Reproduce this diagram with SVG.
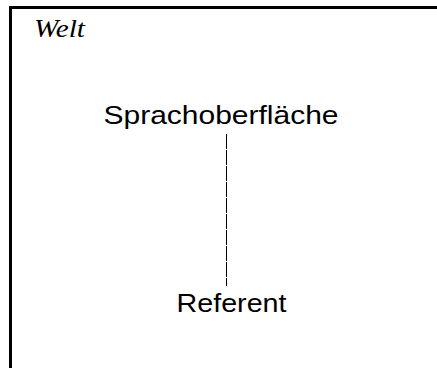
<svg xmlns="http://www.w3.org/2000/svg" width="437" height="368" viewBox="0 0 437 368">
<style>
.frame{fill:none;stroke:#000;stroke-width:3}
.lbl{font-family:"Liberation Sans",Arial,sans-serif;font-size:25px;fill:#000}
.title{font-family:"Liberation Serif","Times New Roman",serif;font-style:italic;font-size:26px;fill:#000}
.conn{stroke:#000;stroke-width:1;stroke-dasharray:15 1;fill:none}
</style>
<rect width="437" height="368" fill="#fff"/>
<g id="welt">
<path class="frame" d="M10.5 368 V7.5 H437"/>
<text class="title" x="34" y="37" textLength="51" lengthAdjust="spacingAndGlyphs">Welt</text>
</g>
<g id="connectors">
<line class="conn" x1="226.5" y1="134" x2="226.5" y2="286"/>
</g>
<g id="sprachoberflaeche">
<text class="lbl" x="103.5" y="124" textLength="235" lengthAdjust="spacingAndGlyphs">Sprachoberfläche</text>
</g>
<g id="referent">
<text class="lbl" x="176.5" y="311.5" textLength="110" lengthAdjust="spacingAndGlyphs">Referent</text>
</g>
</svg>
